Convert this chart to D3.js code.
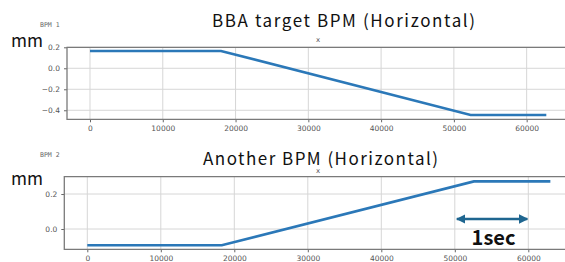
<!DOCTYPE html>
<html><head><meta charset="utf-8">
<script src="https://cdn.jsdelivr.net/npm/d3@7"></script>
<style>body{margin:0;background:#fff}svg{display:block}</style>
</head><body>
<script>
// ---- data ----
const xTicks = [0, 10000, 20000, 30000, 40000, 50000, 60000];
const topYTicks = [0.2, 0.0, -0.2, -0.4];
const botYTicks = [0.2, 0.0];
const topX = [0, 18000, 52300, 62700];
const topY = [0.165, 0.165, -0.445, -0.445];
const botX = [0, 18300, 52600, 63000];
const botY = [-0.093, -0.093, 0.272, 0.272];
const titles = ["BBA target BPM (Horizontal)", "Another BPM (Horizontal)"];
const smallLabels = ["BPM 1", "BPM 2"];
const arrowSpan = [50000, 60000];

const W = 565, H = 262;
const svg = d3.select("body").append("svg").attr("width", W).attr("height", H);

function fmt(v){ return v === 0 ? "0.0" : (v < 0 ? "\u2212" + Math.abs(v).toFixed(1) : v.toFixed(1)); }

function panel(cfg){
  const x = d3.scaleLinear().domain(cfg.xd).range([cfg.left, 568]);
  const y = d3.scaleLinear().domain(cfg.yd).range([cfg.bottom, cfg.top]);
  const g = svg.append("g");
  // grid
  g.selectAll(".gx").data(xTicks).join("line")
    .attr("x1", d=>x(d)).attr("x2", d=>x(d)).attr("y1", cfg.top).attr("y2", cfg.bottom)
    .attr("stroke", "#d6d6d6").attr("stroke-width", 1);
  g.selectAll(".gy").data(cfg.yTicks).join("line")
    .attr("x1", cfg.left).attr("x2", 568).attr("y1", d=>y(d)).attr("y2", d=>y(d))
    .attr("stroke", "#d6d6d6").attr("stroke-width", 1);
  // axes
  const ax = g.append("g").attr("transform", `translate(0,${cfg.bottom})`)
    .call(d3.axisBottom(x).tickValues(xTicks).tickSize(3).tickPadding(3).tickFormat(d3.format("d")));
  const ay = g.append("g").attr("transform", `translate(${cfg.left},0)`)
    .call(d3.axisLeft(y).tickValues(cfg.yTicks).tickSize(3).tickPadding(4).tickFormat(fmt));
  [ax, ay].forEach(a => {
    a.select(".domain").remove();
    a.selectAll("line").attr("stroke", "#666");
    a.selectAll("text").attr("fill", "#555").style("font-family", "DejaVu Sans").style("font-size", "7.5px");
  });
  // frame
  g.append("path")
    .attr("d", `M568,${cfg.top}H${cfg.left}V${cfg.bottom}H568`)
    .attr("fill", "none").attr("stroke", "#7a7a7a").attr("stroke-width", 1.3);
  // data line
  const pts = cfg.xs.map((v,i)=>[v, cfg.ys[i]]);
  g.append("path").datum(pts)
    .attr("d", d3.line().x(d=>x(d[0])).y(d=>y(d[1])))
    .attr("fill", "none").attr("stroke", "#2b78b8").attr("stroke-width", 2.6);
  // texts
  g.append("text").attr("x", cfg.titleX).attr("y", cfg.titleY).text(cfg.title)
    .attr("textLength", cfg.titleW).attr("lengthAdjust", "spacing")
    .style("font-family", "'Noto Sans CJK JP'").style("font-size", "17px").attr("fill", "#111");
  g.append("text").attr("x", 11).attr("y", cfg.mmY).text("mm")
    .attr("textLength", 32).attr("lengthAdjust", "spacingAndGlyphs")
    .style("font-family", "'Noto Sans CJK JP'").style("font-size", "17px").attr("fill", "#111");
  g.append("text").attr("x", 40).attr("y", cfg.smallY).text(cfg.small)
    .style("font-family", "DejaVu Sans Mono").style("font-size", "6.5px").attr("fill", "#666");
  g.append("text").attr("x", 318).attr("y", cfg.xLabY).attr("text-anchor", "middle").text("x")
    .style("font-family", "DejaVu Sans").style("font-size", "7px").attr("fill", "#555");
  return {x, y, g};
}

const p1 = panel({left:67, top:47.3, bottom:119.3, xd:[-3160, 65680], yd:[-0.486, 0.2],
  yTicks: topYTicks, xs: topX, ys: topY, title: titles[0], titleX: 212, titleY: 27, titleW: 263,
  mmY: 47, small: smallLabels[0], smallY: 27, xLabY: 42});
const p2 = panel({left:64.3, top:176.7, bottom:249.3, xd:[-3130, 65400], yd:[-0.116, 0.299],
  yTicks: botYTicks, xs: botX, ys: botY, title: titles[1], titleX: 203, titleY: 165, titleW: 235,
  mmY: 185, small: smallLabels[1], smallY: 157, xLabY: 173});

// arrow
const defs = svg.append("defs");
["s","e"].forEach(k=>{
  defs.append("marker").attr("id","ah"+k).attr("viewBox","0 0 10 10").attr("refX", 9).attr("refY",5)
    .attr("markerWidth",4).attr("markerHeight",4).attr("orient", k==="s"?"auto-start-reverse":"auto")
    .append("path").attr("d","M0,0L10,5L0,10z").attr("fill","#1f6690");
});
const ay0 = 219;
svg.append("line").attr("x1", p2.x(arrowSpan[0])+2).attr("x2", p2.x(arrowSpan[1])-1)
  .attr("y1", ay0).attr("y2", ay0).attr("stroke", "#1f6690").attr("stroke-width", 2.4)
  .attr("marker-start","url(#ahs)").attr("marker-end","url(#ahe)");
svg.append("text").attr("x", (p2.x(arrowSpan[0])+p2.x(arrowSpan[1]))/2+2).attr("y", 245)
  .attr("text-anchor","middle").text("1sec")
  .style("font-family","'Noto Sans CJK JP'").style("font-weight","bold").style("font-size","20px").attr("fill","#111");
</script>
</body></html>
